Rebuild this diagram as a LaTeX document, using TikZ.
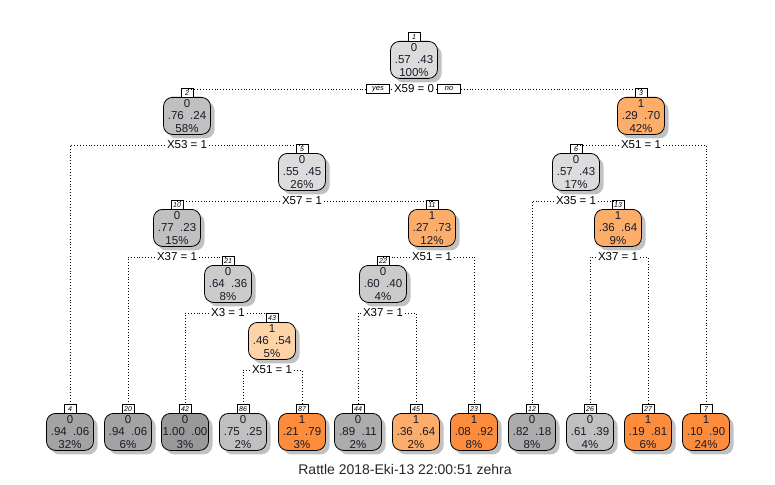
\documentclass[tikz,border=0pt]{standalone}
\usepackage{fontspec}
\setmainfont{Liberation Sans}
\usetikzlibrary{shadows}

% fill colours (grey for class 0, orange for class 1)
\definecolor{g1}{HTML}{DCDCDC}
\definecolor{g2}{HTML}{C0C0C0}
\definecolor{g3}{HTML}{CBCBCB}
\definecolor{g4}{HTML}{A3A3A3}
\definecolor{g5}{HTML}{999999}
\definecolor{g6}{HTML}{ACACAC}
\definecolor{o1}{HTML}{FDD3A8}
\definecolor{o2}{HTML}{FDAD6A}
\definecolor{o3}{HTML}{FD8D3C}
\definecolor{txt}{HTML}{1A1A2A}

\tikzset{
  tbox/.style={draw=black, line width=0.8pt, rounded corners=9pt,
    minimum width=47pt, minimum height=37pt, inner sep=0pt, align=center,
    text=txt, font=\fontsize{11.5}{12.6}\selectfont,
    drop shadow={shadow xshift=4pt, shadow yshift=-4pt, fill=black!30, opacity=0.8}},
  numbox/.style={draw=black, line width=0.6pt, fill=white, minimum width=12pt,
    minimum height=9pt, inner sep=0.8pt, font=\fontsize{7}{7.5}\selectfont\itshape},
  split/.style={font=\fontsize{11.5}{12}\selectfont, inner sep=2pt, text=black},
  yn/.style={draw=black, line width=0.6pt, fill=white, minimum width=23pt,
    minimum height=9pt, inner sep=0.8pt, font=\fontsize{7.5}{8}\selectfont\itshape},
  conn/.style={line width=0.9pt, dash pattern=on 0.9pt off 2pt}
}

% name, x, top y, fill, number, class, probabilities, percentage
\newcommand\tnode[8]{%
  \node[tbox, fill=#4, anchor=north] (#1) at (#2,#3) {#6\\#7\\#8};
  \node[numbox, anchor=south] (#1n) at ([yshift=-1pt]#1.north) {#5};
}

\begin{document}
\begin{tikzpicture}[x=1pt, y=-1pt]
\useasboundingbox (0,0) rectangle (775,484);

% internal nodes
\tnode{n1}{414}{41}{g1}{1}{0}{.57\ \ .43}{100\%}
\tnode{n2}{187}{97}{g2}{2}{0}{.76\ \ .24}{58\%}
\tnode{n3}{641}{97}{o2}{3}{1}{.29\ \ .70}{42\%}
\tnode{n5}{302}{153}{g1}{5}{0}{.55\ \ .45}{26\%}
\tnode{n6}{576}{153}{g1}{6}{0}{.57\ \ .43}{17\%}
\tnode{n10}{177}{209}{g2}{10}{0}{.77\ \ .23}{15\%}
\tnode{n11}{432}{209}{o2}{11}{1}{.27\ \ .73}{12\%}
\tnode{n13}{618}{209}{o2}{13}{1}{.36\ \ .64}{9\%}
\tnode{n21}{228}{265}{g3}{21}{0}{.64\ \ .36}{8\%}
\tnode{n22}{383}{265}{g3}{22}{0}{.60\ \ .40}{4\%}
\tnode{n43}{272}{322}{o1}{43}{1}{.46\ \ .54}{5\%}

% leaves
\tnode{n4}{70}{413}{g4}{4}{0}{.94\ \ .06}{32\%}
\tnode{n20}{128}{413}{g4}{20}{0}{.94\ \ .06}{6\%}
\tnode{n42}{185}{413}{g5}{42}{0}{1.00\ \ .00}{3\%}
\tnode{n86}{243}{413}{g2}{86}{0}{.75\ \ .25}{2\%}
\tnode{n87}{302}{413}{o3}{87}{1}{.21\ \ .79}{3\%}
\tnode{n44}{358}{413}{g6}{44}{0}{.89\ \ .11}{2\%}
\tnode{n45}{416}{413}{o2}{45}{1}{.36\ \ .64}{2\%}
\tnode{n23}{474}{413}{o3}{23}{1}{.08\ \ .92}{8\%}
\tnode{n12}{532}{413}{g6}{12}{0}{.82\ \ .18}{8\%}
\tnode{n26}{590}{413}{g2}{26}{0}{.61\ \ .39}{4\%}
\tnode{n27}{648}{413}{o3}{27}{1}{.19\ \ .81}{6\%}
\tnode{n7}{706}{413}{o3}{7}{1}{.10\ \ .90}{24\%}

% split labels
\node[split] (s1) at (414,89) {X59 = 0};
\node[yn] (yes) at (378,89) {yes};
\node[yn] (no) at (449,89) {no};
\node[split] (s2) at (187,145) {X53 = 1};
\node[split] (s3) at (641,145) {X51 = 1};
\node[split] (s5) at (302,201) {X57 = 1};
\node[split] (s6) at (576,201) {X35 = 1};
\node[split] (s10) at (177,257) {X37 = 1};
\node[split] (s11) at (432,257) {X51 = 1};
\node[split] (s13) at (618,257) {X37 = 1};
\node[split] (s21) at (228,313) {X3 = 1};
\node[split] (s22) at (383,313) {X37 = 1};
\node[split] (s43) at (272,370) {X51 = 1};

% branches
\draw[conn] (s1.west) -- (yes.east);
\draw[conn] (s1.east) -- (no.west);
\draw[conn] (yes.west) -| (n2n.north);
\draw[conn] (no.east) -| (n3n.north);
\draw[conn] (s2.west) -| (n4n.north);
\draw[conn] (s2.east) -| (n5n.north);
\draw[conn] (s3.west) -| (n6n.north);
\draw[conn] (s3.east) -| (n7n.north);
\draw[conn] (s5.west) -| (n10n.north);
\draw[conn] (s5.east) -| (n11n.north);
\draw[conn] (s6.west) -| (n12n.north);
\draw[conn] (s6.east) -| (n13n.north);
\draw[conn] (s10.west) -| (n20n.north);
\draw[conn] (s10.east) -| (n21n.north);
\draw[conn] (s11.west) -| (n22n.north);
\draw[conn] (s11.east) -| (n23n.north);
\draw[conn] (s13.west) -| (n26n.north);
\draw[conn] (s13.east) -| (n27n.north);
\draw[conn] (s21.west) -| (n42n.north);
\draw[conn] (s21.east) -| (n43n.north);
\draw[conn] (s22.west) -| (n44n.north);
\draw[conn] (s22.east) -| (n45n.north);
\draw[conn] (s43.west) -| (n86n.north);
\draw[conn] (s43.east) -| (n87n.north);

% caption
\node[font=\fontsize{14}{16}\selectfont, text=black!85] (cap) at (405,469) {Rattle 2018-Eki-13 22:00:51 zehra};
\end{tikzpicture}
\end{document}
